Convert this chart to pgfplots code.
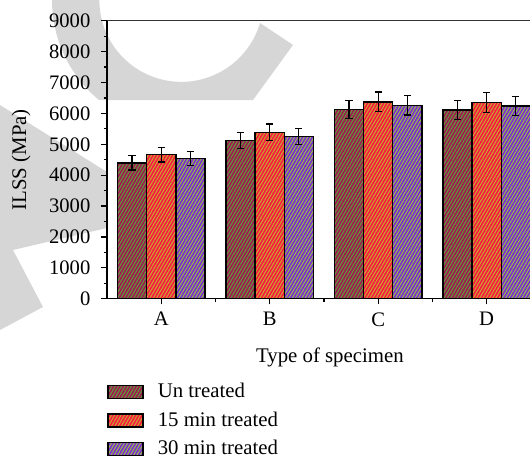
\documentclass[border=0pt]{standalone}
\usepackage{fontspec}
\setmainfont{Liberation Serif}
\usepackage{pgfplots}
\pgfplotsset{compat=1.18}
\usetikzlibrary{patterns.meta}
\definecolor{wm}{HTML}{D6D6D6}
\definecolor{c1}{HTML}{A01850}
\definecolor{p1}{HTML}{5E9E3A}
\definecolor{c2}{HTML}{F8183F}
\definecolor{p2}{HTML}{C8A830}
\definecolor{c3}{HTML}{7A2CD0}
\definecolor{p3}{HTML}{98BC48}
\pgfplotsset{
  s1/.style={draw=black, line width=0.7pt, preaction={fill=c1}, pattern color=p1, pattern={Lines[angle=60,distance=1.4pt,line width=0.5pt]}},
  s2/.style={draw=black, line width=0.7pt, preaction={fill=c2}, pattern color=p2, pattern={Lines[angle=60,distance=1.4pt,line width=0.5pt]}},
  s3/.style={draw=black, line width=0.7pt, preaction={fill=c3}, pattern color=p3, pattern={Lines[angle=60,distance=1.4pt,line width=0.5pt]}},
}
\begin{document}
\begin{tikzpicture}
\useasboundingbox (0,0) rectangle (265pt,228.5pt);
% watermark
\fill[wm] (26pt,240pt) -- (26pt,228.5pt) arc[start angle=180,end angle=230.3,radius=65pt]
  -- (126.5pt,178.5pt) -- (146.5pt,206pt) -- (130pt,217pt)
  arc[start angle=343.6,end angle=180,radius=41pt] -- (50pt,240pt) -- cycle;
\fill[wm] (-5pt,176pt) -- (0pt,176pt) -- (53.5pt,142.5pt) -- (53.5pt,114.5pt) -- (6.5pt,103.5pt)
  -- (21.5pt,75pt) -- (0pt,63.5pt) -- (-5pt,63.5pt) -- cycle;
\begin{axis}[
  at={(53.5pt,79.15pt)}, anchor=south west,
  scale only axis, width=211.5pt, height=139pt,
  xmin=-0.5, xmax=3.4, ymin=0, ymax=9000,
  axis x line*=bottom, axis y line*=left,
  axis line style={-, line width=0.6pt, black},
  ybar=0pt, bar width=14.6pt,
  xtick={0,1,2,3}, xticklabels={A,B,C,D}, minor xtick={0.5,1.5,2.5},
  ytick={0,1000,...,9000}, minor y tick num=1,
  tick align=outside, major tick length=2.8pt, minor tick length=1.6pt,
  tick style={line width=0.6pt, black},
  scaled y ticks=false,
  /pgf/number format/set thousands separator={},
  /pgf/number format/assume math mode=true,
  ticklabel style={font=\fontsize{10.3}{12}\selectfont},
  yticklabel style={xshift=-2pt},
  xticklabel style={yshift=-0.5pt},
  xlabel={Type of specimen}, ylabel={ILSS (MPa)},
  every axis x label/.style={at={(rel axis cs:0.527,0)}, anchor=center, yshift=-29.5pt, font=\fontsize{10.4}{12}\selectfont},
  every axis y label/.style={at={(rel axis cs:0,0.5)}, anchor=center, xshift=-43pt, rotate=90, font=\fontsize{10.4}{12}\selectfont},
  legend style={at={(rel axis cs:0,0)}, anchor=north west, draw=none, fill=none, yshift=-41pt,
    inner sep=0pt, font=\fontsize{10.4}{12}\selectfont, row sep=3.6pt,
    nodes={inner sep=1pt}},
  legend cell align=left,
  legend image code/.code={\draw[#1] (0pt,-3.25pt) rectangle (17.5pt,3.25pt); \path (23.5pt,0pt);},
  error bars/error bar style={line width=0.6pt, black, solid},
  error bars/error mark options={rotate=90, mark size=1.8pt, line width=0.6pt, black},
]
\addplot[s1, error bars/.cd, y dir=both, y explicit] coordinates {
  (0,4400) +- (0,230)
  (1,5120) +- (0,250)
  (2,6130) +- (0,300)
  (3,6110) +- (0,305)
};
\addplot[s2, error bars/.cd, y dir=both, y explicit] coordinates {
  (0,4660) +- (0,235)
  (1,5385) +- (0,270)
  (2,6375) +- (0,320)
  (3,6355) +- (0,315)
};
\addplot[s3, error bars/.cd, y dir=both, y explicit] coordinates {
  (0,4530) +- (0,225)
  (1,5255) +- (0,250)
  (2,6260) +- (0,310)
  (3,6235) +- (0,305)
};
\legend{Un treated, 15 min treated, 30 min treated}
\draw[line width=0.6pt, black!80] (rel axis cs:0,1) -- (rel axis cs:1,1);
\end{axis}
\end{tikzpicture}
\end{document}
